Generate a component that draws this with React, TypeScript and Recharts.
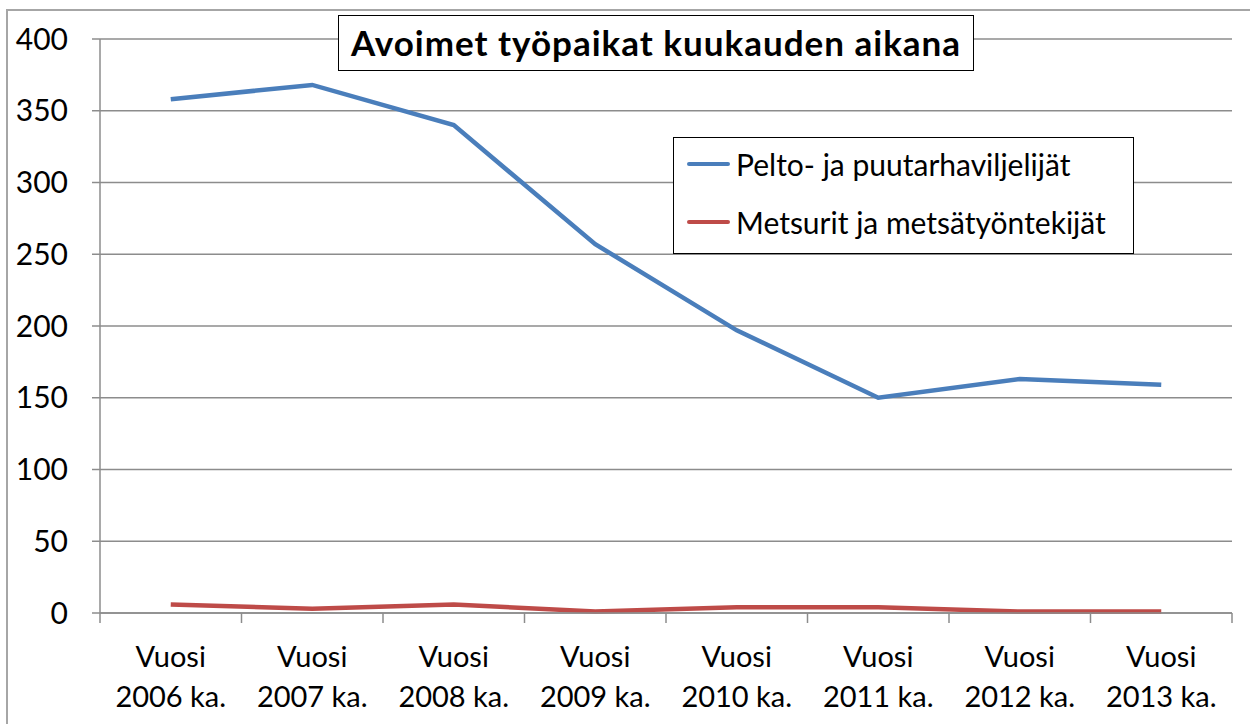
import { CartesianGrid, Legend, Line, LineChart, XAxis, YAxis } from 'recharts';

const years = ['2006', '2007', '2008', '2009', '2010', '2011', '2012', '2013'];
const pelto = [358, 368, 340, 257, 197, 150, 163, 159];
const metsurit = [6, 3, 6, 1, 4, 4, 1, 1];
const yTicks = [0, 50, 100, 150, 200, 250, 300, 350, 400];

const seriesNames = ['Pelto- ja puutarhaviljelijät', 'Metsurit ja metsätyöntekijät'];
const seriesColors = ['#4a7ebb', '#be4b48'];

const data = years.map((y, i) => ({
  label: `Vuosi ${y} ka.`,
  pelto: pelto[i],
  metsurit: metsurit[i],
}));

const FONT = 'Lato, "Liberation Sans", sans-serif';
const GRID = '#8c8c8c';

// category label in two lines, with Excel-style tick marks between the categories
function YearTick(props: any) {
  const { x, y, payload, index, visibleTicksCount } = props;
  const half = payload.offset ?? 0;
  const [first, ...rest] = String(payload.value).split(' ');
  const last = index === visibleTicksCount - 1;
  return (
    <g>
      <line x1={x - half} x2={x - half} y1={y} y2={y + 10} stroke={GRID} strokeWidth={1.5} />
      {last && <line x1={x + half} x2={x + half} y1={y} y2={y + 10} stroke={GRID} strokeWidth={1.5} />}
      <text x={x} y={y + 54} textAnchor="middle" fontSize={29} fontFamily={FONT} fill="#000">
        {first}
      </text>
      <text x={x} y={y + 94} textAnchor="middle" fontSize={29} fontFamily={FONT} fill="#000">
        {rest.join(' ')}
      </text>
    </g>
  );
}

function LegendBox() {
  return (
    <div
      style={{
        border: '1.5px solid #000',
        background: '#fff',
        width: 461,
        height: 117,
        boxSizing: 'border-box',
        paddingLeft: 13,
        paddingTop: 2,
        fontFamily: FONT,
        fontSize: 30,
        color: '#000',
      }}
    >
      {seriesNames.map((name, i) => (
        <div key={name} style={{ display: 'flex', alignItems: 'center', height: 48, marginBottom: i === 0 ? 10 : 0 }}>
          <span style={{ display: 'inline-block', width: 43, height: 4, borderRadius: 2, background: seriesColors[i], marginRight: 6 }} />
          <span>{name}</span>
        </div>
      ))}
    </div>
  );
}

export default function App() {
  return (
    <div style={{ position: 'absolute', left: 0, top: 0, width: 1250, height: 724, background: '#fff', overflow: 'hidden' }}>
      <div
        style={{
          position: 'absolute',
          left: 6,
          top: 9,
          width: 1260,
          height: 730,
          borderLeft: '2px solid #a6a6a6',
          borderTop: '2px solid #a6a6a6',
          boxSizing: 'border-box',
        }}
      />
      <LineChart width={1250} height={724} data={data} margin={{ top: 39, right: 18, bottom: 0, left: 0 }}>
        <CartesianGrid vertical={false} stroke={GRID} strokeWidth={1.5} />
        <XAxis
          dataKey="label"
          scale="band"
          interval={0}
          stroke={GRID}
          strokeWidth={1.5}
          tickLine={false}
          tickSize={0}
          tickMargin={0}
          tick={<YearTick />}
          height={111}
        />
        <YAxis
          domain={[0, 400]}
          ticks={yTicks}
          width={100}
          tickSize={8}
          tickMargin={24}
          stroke={GRID}
          strokeWidth={1.5}
          tick={{ fill: '#000', fontSize: 30, fontFamily: FONT }}
        />
        <Legend
          layout="vertical"
          align="center"
          verticalAlign="middle"
          content={<LegendBox />}
          wrapperStyle={{ position: 'absolute', left: 673, top: 137, width: 461, height: 117 }}
        />
        <Line
          dataKey="pelto"
          name={seriesNames[0]}
          stroke={seriesColors[0]}
          strokeWidth={4.5}
          dot={false}
          isAnimationActive={false}
        />
        <Line
          dataKey="metsurit"
          name={seriesNames[1]}
          stroke={seriesColors[1]}
          strokeWidth={4.5}
          dot={false}
          isAnimationActive={false}
        />
      </LineChart>
      <div
        style={{
          position: 'absolute',
          left: 338,
          top: 15,
          width: 636,
          height: 56,
          boxSizing: 'border-box',
          border: '1.5px solid #000',
          background: '#fff',
          fontFamily: FONT,
          fontWeight: 'bold',
          fontSize: 35,
          letterSpacing: 1,
          lineHeight: '52px',
          textAlign: 'center',
          color: '#000',
          whiteSpace: 'nowrap',
        }}
      >
        Avoimet työpaikat kuukauden aikana
      </div>
    </div>
  );
}
